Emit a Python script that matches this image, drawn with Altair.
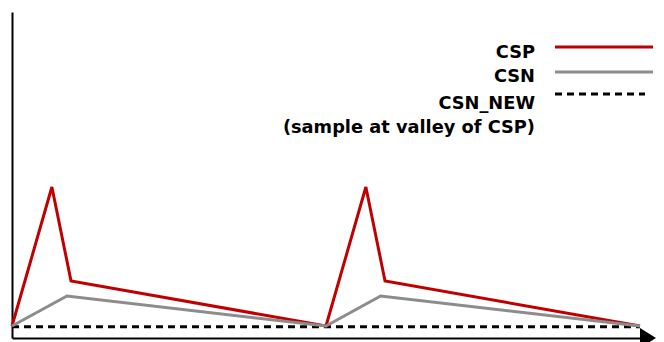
import altair as alt
import pandas as pd

# time in switching periods, amplitude normalised to the CSP peak
csp_t = [0.0, 0.127, 0.188, 1.0, 1.127, 1.188, 2.0]
csp_v = [0.0, 1.0, 0.324, 0.0, 1.0, 0.324, 0.0]
csn_t = [0.0, 0.175, 1.0, 1.174, 2.0]
csn_v = [0.0, 0.216, 0.0, 0.216, 0.0]
new_t = [0.0, 1.0, 2.0]
new_v = [-0.006, -0.006, -0.006]

legend_names = ["CSP", "CSN", "CSN_NEW\n(sample at valley of CSP)"]

X_MIN, X_MAX = 0.0, 2.0255
Y_MIN, Y_MAX = -0.0863, 2.259

RED = "#C00000"
GRAY = "#8C8C8C"
BLACK = "#000000"

csp = pd.DataFrame({"t": csp_t, "v": csp_v})
csn = pd.DataFrame({"t": csn_t, "v": csn_v})
new = pd.DataFrame({"t": new_t, "v": new_v})

xs = alt.Scale(domain=[X_MIN, X_MAX], nice=False, zero=False)
ys = alt.Scale(domain=[Y_MIN, Y_MAX], nice=False, zero=False)
xax = alt.Axis(domain=True, ticks=False, labels=False, grid=False, title=None,
               domainColor=BLACK, domainWidth=2)
yax = alt.Axis(domain=True, ticks=False, labels=False, grid=False, title=None,
               domainColor=BLACK, domainWidth=2)


def series(df, color, dash=None):
    kw = dict(color=color, strokeWidth=3, clip=False)
    if dash:
        kw["strokeDash"] = dash
    return alt.Chart(df).mark_line(**kw).encode(
        x=alt.X("t:Q", scale=xs, axis=xax),
        y=alt.Y("v:Q", scale=ys, axis=yax),
    )


base = alt.Chart(pd.DataFrame({"a": [0]}))

arrow = base.mark_point(
    shape="M-0.8,-1L0.8,0L-0.8,1Z", size=400, filled=True, color=BLACK, opacity=1,
    strokeWidth=0, clip=False,
).encode(x=alt.datum(X_MAX, scale=xs), y=alt.datum(Y_MIN, scale=ys))

FONT = "DejaVu Sans"
layers = [series(new, BLACK, [7, 5]), series(csp, RED), series(csn, GRAY), arrow]

text_y = [41, 64.5, 91.5]
line_y = [35, 60, 82]
styles = [(RED, None), (GRAY, None), (BLACK, [7, 5])]
line_x2 = [641, 641, 633]
for name, ty, ly, (col, dash), x2 in zip(legend_names, text_y, line_y, styles, line_x2):
    layers.append(
        base.mark_text(
            text=name.split("\n") if "\n" in name else name,
            align="right", baseline="middle", font=FONT, fontWeight="bold",
            fontSize=17.8, lineHeight=24, color=BLACK,
        ).encode(x=alt.value(523), y=alt.value(ty))
    )
    kw = dict(color=col, strokeWidth=3)
    if dash:
        kw["strokeDash"] = dash
    layers.append(
        base.mark_rule(**kw).encode(x=alt.value(543), x2=alt.value(x2), y=alt.value(ly))
    )

chart = alt.layer(*layers).properties(
    width=636, height=326,
    padding={"left": 4, "top": 4, "right": 8, "bottom": 4},
    autosize="none",
).configure_view(stroke=None)

chart.save("out.html", embed_options={"renderer": "svg", "actions": False})
